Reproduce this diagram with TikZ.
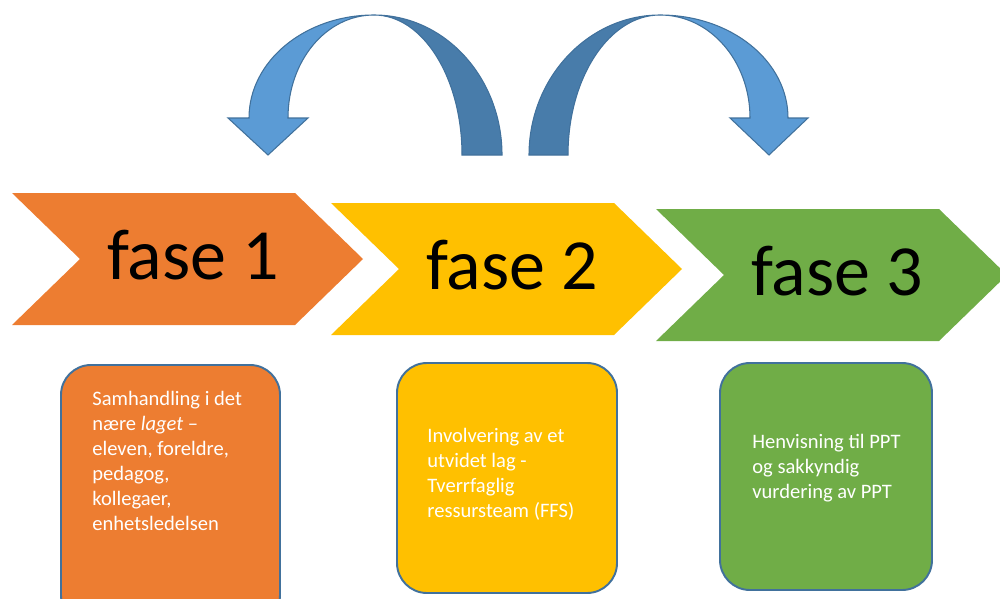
\documentclass[tikz,border=0pt]{standalone}
\usepackage{fontspec}
\setmainfont{Carlito}
\definecolor{faseorange}{HTML}{ED7D31}
\definecolor{faseyellow}{HTML}{FFC000}
\definecolor{fasegreen}{HTML}{70AD47}
\definecolor{pillys}{HTML}{5B9BD5}
\definecolor{pilmork}{HTML}{487CAA}
\definecolor{kant}{HTML}{41719C}

\begin{document}
\begin{tikzpicture}[x=0.02cm,y=-0.02cm,
	boks/.style={draw=kant,line width=1.1pt,rounded corners=0.6cm},
	bokstekst/.style={text=white,font=\fontsize{11.7}{14.2}\selectfont,align=left,anchor=base west,inner sep=0pt},
	fasetekst/.style={font=\fontsize{41}{41}\selectfont,anchor=base,inner sep=0pt},
	pil/.style={draw=kant,line width=0.6pt}]
	
	\useasboundingbox (0,0) rectangle (1000,598);
	\clip (0,0) rectangle (1000,598);
	
	% pil tilbake
	\filldraw[pil,fill=pillys] (228,118) -- (249,118) .. controls (249,61) and (305,15) .. (374,15)
		.. controls (326,15) and (288,61) .. (288,118) -- (308,118) -- (268,155) -- cycle;
	\filldraw[pil,fill=pilmork] (374,15) .. controls (445,15) and (502,78) .. (502,155) -- (462,155)
		.. controls (462,78) and (423,15) .. (374,15) -- cycle;
	
	% pil fram
	\filldraw[pil,fill=pillys] (808,118) -- (788,118) .. controls (788,61) and (731,15) .. (660,15)
		.. controls (710,15) and (750,61) .. (750,118) -- (730,118) -- (769,155) -- cycle;
	\filldraw[pil,fill=pilmork] (660,15) .. controls (588,15) and (529,78) .. (529,155) -- (568,155)
		.. controls (568,78) and (609,15) .. (660,15) -- cycle;
	
	% fasene
	\foreach \x/\y/\farge/\nr in {12/193/faseorange/1,331/203/faseyellow/2,656/209/fasegreen/3}
	{
		\fill[\farge] (\x,\y) -- (\x+283,\y) -- (\x+351,\y+66) -- (\x+283,\y+132) -- (\x,\y+132) -- (\x+68,\y+66) -- cycle;
		\node[fasetekst] (fase\nr) at (\x+181,\y+86) {fase \nr};
	}
	
	% boksene
	\filldraw[boks,fill=faseorange] (61,365) rectangle (280,625);
	\filldraw[boks,fill=faseyellow] (397,363) rectangle (617,593);
	\filldraw[boks,fill=fasegreen] (720,363) rectangle (932,590);
	
	% tekstene (base = siste linje)
	\node[bokstekst] (tekst1) at (92,530) {Samhandling i det\\nære \textit{laget} –\\eleven, foreldre,\\pedagog,\\kollegaer,\\enhetsledelsen};
	\node[bokstekst] (tekst2) at (427,517) {Involvering av et\\utvidet lag -\\Tverrfaglig\\ressursteam (FFS)};
	\node[bokstekst] (tekst3) at (752,498) {Henvisning til PPT\\og sakkyndig\\vurdering av PPT};

\end{tikzpicture}
\end{document}
